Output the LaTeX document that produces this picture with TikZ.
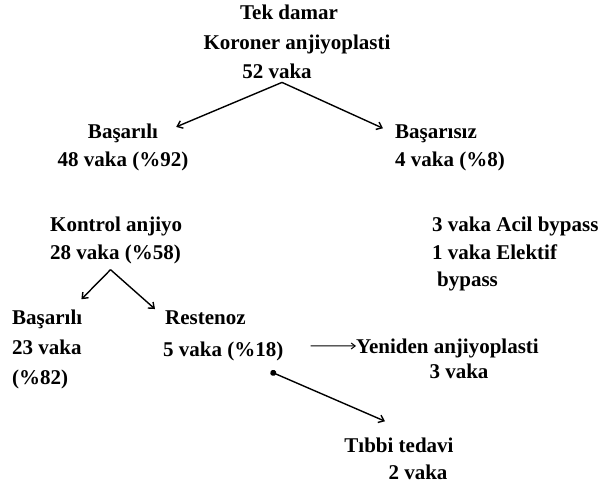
\documentclass[tikz,border=0pt]{standalone}
\usepackage{fontspec}
\setmainfont{Liberation Serif}
\usetikzlibrary{arrows.meta}

\tikzset{
  metin/.style={font=\fontsize{21}{25}\selectfont\bfseries, inner sep=0pt},
  ok/.style={line width=1.4pt, -{Straight Barb[length=5pt,width=8pt]}},
  ince/.style={line width=1pt, -{Straight Barb[length=4pt,width=6pt]}}
}

\begin{document}
\begin{tikzpicture}[x=1pt,y=-1pt]
  \useasboundingbox (0,0) rectangle (602,488);
  % Top
  \node[metin,anchor=base] (tekdamar) at (289,19) {Tek damar};
  \node[metin,anchor=base] (koroner) at (297,49) {Koroner anjiyoplasti};
  \node[metin,anchor=base] (vaka52) at (277,78) {52 vaka};

  % First split
  \node[metin,anchor=base] (basarili) at (123,138) {Başarılı};
  \node[metin,anchor=base] (vaka48) at (123,166) {48 vaka (\%92)};
  \node[metin,anchor=base west] (basarisiz) at (395,138) {Başarısız};
  \node[metin,anchor=base west] (vaka4) at (395,166) {4 vaka (\%8)};

  \draw[ok] ([shift={(5,4)}]vaka52.south) -- ([shift={(18,-6)}]basarili.east);
  \draw[ok] ([shift={(5,4)}]vaka52.south) -- ([shift={(-12,-5)}]basarisiz.west);

  % Control angiography
  \node[metin,anchor=base west] (kontrol) at (50,231) {Kontrol anjiyo};
  \node[metin,anchor=base west] (vaka28) at (50,259) {28 vaka (\%58)};

  \node[metin,anchor=base west] (acil) at (432,231) {3 vaka Acil bypass};
  \node[metin,anchor=base west] (elektif) at (432,259) {1 vaka Elektif};
  \node[metin,anchor=base west] (bypass) at (437,286) {bypass};

  % Second split
  \node[metin,anchor=base west] (basarili2) at (12,324) {Başarılı};
  \node[metin,anchor=base west] (vaka23) at (12,354) {23 vaka};
  \node[metin,anchor=base west] (yuzde82) at (12,384) {(\%82)};
  \node[metin,anchor=base west] (restenoz) at (165,324) {Restenoz};
  \node[metin,anchor=base west] (vaka5) at (163,356) {5 vaka (\%18)};

  \draw[ok] ([shift={(-5,6)}]vaka28.south) -- ([shift={(-1,-10)}]basarili2.north east);
  \draw[ok] ([shift={(-5,6)}]vaka28.south) -- ([shift={(-10,-1)}]restenoz.north west);

  % Restenosis outcomes
  \node[metin,anchor=base west] (yeniden) at (356,353) {Yeniden anjiyoplasti};
  \node[metin,anchor=base] (vaka3) at (459,378) {3 vaka};
  \node[metin,anchor=base] (tibbi) at (399,452) {Tıbbi tedavi};
  \node[metin,anchor=base] (vaka2) at (418,479) {2 vaka};

  \draw[ince] ([shift={(27,-5)}]vaka5.east) -- ([shift={(0,-2)}]yeniden.west);
  \draw[ok,{Circle[length=6pt]}-{Straight Barb[length=5pt,width=8pt]}]
    ([shift={(-13,11)}]vaka5.south east) -- ([shift={(-14,-16)}]tibbi.north);
\end{tikzpicture}
\end{document}
